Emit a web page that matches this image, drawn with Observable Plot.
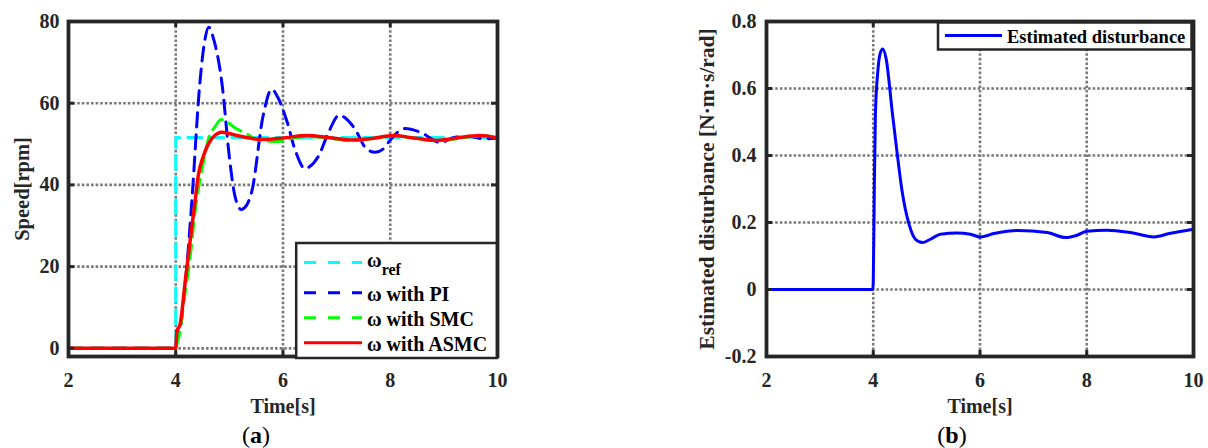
<!DOCTYPE html>
<html><head><meta charset="utf-8">
<script src="https://cdn.jsdelivr.net/npm/d3@7"></script>
<script src="https://cdn.jsdelivr.net/npm/@observablehq/plot@0.6"></script>
<style>
body{margin:0;background:#fff;}
#wrap{position:relative;width:1208px;height:448px;overflow:hidden;background:#fff;}
#row{display:flex;}
#overlay{position:absolute;left:0;top:0;}
</style></head><body>
<div id="wrap"><div id="row"></div><svg id="overlay" width="1208" height="448"></svg></div>
<script>
// ---------- data ----------
const xTicks = [2, 4, 6, 8, 10];
const speedTicks = [0, 20, 40, 60, 80];
const speedTickLabels = ["0", "20", "40", "60", "80"];
const distTicks = [-0.2, 0, 0.2, 0.4, 0.6, 0.8];
const distTickLabels = ["-0.2", "0", "0.2", "0.4", "0.6", "0.8"];

const speedRef = [[2,0],[4,0],[4,51.6],[10,51.6]];
const speedPI = [[2,0],[4,0],[4.03,3],[4.09,5.5],[4.2,19],[4.3,36],[4.45,65],[4.55,76],[4.615,78.6],[4.7,76],
  [4.86,65],[5.01,45.6],[5.1,37.5],[5.22,34],[5.32,35],[5.42,38.5],[5.63,57],[5.79,63.4],[5.9,61.5],[6.07,55.7],
  [6.23,48.4],[6.41,44],[6.5,44.5],[6.66,47],[6.85,52.9],[7.05,57.1],[7.15,56.5],[7.34,53.7],[7.56,48.8],[7.72,48],
  [7.9,49.2],[8.0,51],[8.28,53.8],[8.56,52.9],[8.93,50.4],[9.24,51.7],[9.5,51.8],[9.74,51.3],[10,51.4]];
const speedSMC = [[2,0],[4,0],[4.03,1.5],[4.08,4],[4.14,10.3],[4.27,22.5],[4.36,33.4],[4.5,44.5],[4.64,52.5],[4.72,54],
  [4.85,56],[4.95,55.5],[5.1,54],[5.27,52.9],[5.57,50.9],[5.92,50.6],[6.2,51.5],[6.5,51.8],[6.85,51.5],[7.25,50.8],
  [7.6,51.2],[8.06,52],[8.43,51.5],[8.87,50.8],[9.24,51.3],[9.67,52],[10,51.5]];
const speedASMC = [[2,0],[4,0],[4.02,4.2],[4.08,5.8],[4.18,16.8],[4.27,26.5],[4.36,36],[4.42,42.3],[4.52,47.2],[4.67,51.3],
  [4.78,52.6],[4.86,52.9],[5.0,52.6],[5.14,52.1],[5.45,51.3],[5.57,51.1],[5.76,51.2],[6.01,51.5],[6.44,52.1],[6.85,51.6],
  [7.25,51.0],[7.62,51.3],[8.06,52.1],[8.43,51.5],[8.87,50.9],[9.24,51.5],[9.67,52.1],[10,51.5]];
const disturbance = [[2,0],[3.99,0],[4.0,0.02],[4.02,0.3],[4.04,0.52],[4.085,0.65],[4.13,0.705],[4.18,0.718],[4.24,0.69],
  [4.36,0.524],[4.45,0.404],[4.54,0.294],[4.67,0.195],[4.79,0.15],[4.92,0.14],[5.07,0.15],[5.26,0.165],[5.57,0.169],
  [5.82,0.165],[6.01,0.157],[6.26,0.167],[6.7,0.176],[7.26,0.17],[7.6,0.155],[7.82,0.162],[8.0,0.174],[8.38,0.177],
  [8.82,0.17],[9.26,0.157],[9.57,0.168],[10,0.18]];

const speedNames = ["ref", "PI", "SMC", "ASMC"];
const legendLabelsA = ["\u03c9", "\u03c9 with PI", "\u03c9 with SMC", "\u03c9 with ASMC"];
const legendLabelB = "Estimated disturbance";

// ---------- styles ----------
const FONT = '"Liberation Serif","Times New Roman",serif';
const INK = "#262626";
const GRID = "#7a7a7a";
const speedStyle = {
  ref:  {color: "#00ffff", width: 3,   dash: "14,8"},
  PI:   {color: "#0000ff", width: 3,   dash: "14,8"},
  SMC:  {color: "#00ff00", width: 3,   dash: "14,8"},
  ASMC: {color: "#ff0000", width: 3.5, dash: null}
};
const speedData = {ref: speedRef, PI: speedPI, SMC: speedSMC, ASMC: speedASMC};
const xDomain = [2, 10];

function panel({domainY, yTicks, yTickLabels, yLabel, series, marginLeft, marginRight, yLabelDx, yPad, yLabelSize}) {
  const width = 604, height = 448, mt = 21, mb = 92;
  const pw = width - marginLeft - marginRight, ph = height - mt - mb;
  const xIn = xTicks.filter(d => d > xDomain[0] && d < xDomain[1]);
  const yIn = yTicks.filter(d => d > domainY[0] && d < domainY[1]);
  const gridOpts = {stroke: GRID, strokeOpacity: 1, strokeWidth: 2.6, strokeDasharray: "2.6,2"};
  return Plot.plot({
    width, height, marginLeft, marginRight, marginTop: mt, marginBottom: mb,
    style: {fontFamily: FONT, background: "transparent", overflow: "visible"},
    x: {domain: xDomain}, y: {domain: domainY},
    marks: [
      Plot.gridX(xIn, gridOpts),
      Plot.gridY(yIn, gridOpts),
      ...series.map(s => Plot.line(s.data, {x: d => d[0], y: d => d[1], stroke: s.color, strokeWidth: s.width,
        strokeDasharray: s.dash, curve: "monotone-x", strokeLinejoin: "round"})),
      Plot.tickX(xTicks, {x: d => d, stroke: INK, strokeWidth: 3, insetTop: ph - 6}),
      Plot.tickX(xTicks, {x: d => d, stroke: INK, strokeWidth: 3, insetBottom: ph - 6}),
      Plot.tickY(yTicks, {y: d => d, stroke: INK, strokeWidth: 3, insetRight: pw - 6}),
      Plot.tickY(yTicks, {y: d => d, stroke: INK, strokeWidth: 3, insetLeft: pw - 6}),
      Plot.frame({stroke: INK, strokeWidth: 3.8}),
      Plot.axisX({ticks: xTicks, anchor: "bottom", tickSize: 0, tickPadding: 16, fontSize: 20, fontWeight: "bold",
        color: INK, label: null, tickFormat: d => String(d)}),
      Plot.axisY({ticks: yTicks, anchor: "left", tickSize: 0, tickPadding: yPad, fontSize: 20, fontWeight: "bold",
        color: INK, label: null, tickFormat: d => yTickLabels[yTicks.indexOf(d)]}),
      Plot.text(["Time[s]"], {text: d => d, frameAnchor: "bottom", dy: 50.5, fontSize: 20, fontWeight: "bold",
        fill: INK, lineAnchor: "middle"}),
      Plot.text([yLabel], {text: d => d, frameAnchor: "left", dx: yLabelDx, rotate: -90, textAnchor: "middle",
        lineAnchor: "middle", fontSize: yLabelSize, fontWeight: "bold", fill: INK})
    ]
  });
}

const row = document.getElementById("row");
row.appendChild(panel({
  domainY: [-2, 80], yTicks: speedTicks, yTickLabels: speedTickLabels, yLabel: "Speed[rpm]",
  series: speedNames.map(n => ({data: speedData[n], ...speedStyle[n]})),
  marginLeft: 68, marginRight: 107, yLabelDx: -46, yPad: 9, yLabelSize: 20.5
}));
row.appendChild(panel({
  domainY: [-0.2, 0.8], yTicks: distTicks, yTickLabels: distTickLabels,
  yLabel: "Estimated disturbance [N\u00b7m\u00b7s/rad]",
  series: [{data: disturbance, color: "#0000ff", width: 3, dash: null}],
  marginLeft: 162, marginRight: 15, yLabelDx: -59, yPad: 10, yLabelSize: 21.5
}));

// ---------- legends & captions (overlay) ----------
const ov = d3.select("#overlay").style("font-family", FONT);
const gA = ov.append("g");
gA.append("rect").attr("x", 296.2).attr("y", 243).attr("width", 200.6).attr("height", 115)
  .attr("fill", "white").attr("stroke", INK).attr("stroke-width", 2.5);
const rowY = [262.5, 292.7, 317.7, 342.7];
speedNames.forEach((n, i) => {
  const st = speedStyle[n];
  gA.append("line").attr("x1", 304).attr("x2", 362).attr("y1", rowY[i]).attr("y2", rowY[i])
    .attr("stroke", st.color).attr("stroke-width", 3).attr("stroke-dasharray", st.dash ? "12,12" : null);
  const t = gA.append("text").attr("x", 367).attr("y", i === 0 ? 266.7 : rowY[i] + 7.8)
    .attr("font-size", 20).attr("font-weight", "bold").attr("fill", "#000").text(legendLabelsA[i]);
  if (i === 0) t.append("tspan").attr("font-size", 16).attr("dy", 8).text("ref");
});
const gB = ov.append("g");
gB.append("rect").attr("x", 938).attr("y", 22.5).attr("width", 253.5).attr("height", 27)
  .attr("fill", "white").attr("stroke", INK).attr("stroke-width", 2.5);
gB.append("line").attr("x1", 945).attr("x2", 1002).attr("y1", 35.5).attr("y2", 35.5)
  .attr("stroke", "#0000ff").attr("stroke-width", 3);
gB.append("text").attr("x", 1007).attr("y", 42.7).attr("font-size", 18.5).attr("font-weight", "bold")
  .attr("fill", "#000").text(legendLabelB);

[["a", 256], ["b", 952]].forEach(([c, x]) => {
  const t = ov.append("text").attr("x", x).attr("y", 443).attr("text-anchor", "middle")
    .attr("font-size", 24).attr("fill", "#000");
  t.append("tspan").text("(");
  t.append("tspan").attr("font-weight", "bold").text(c);
  t.append("tspan").text(")");
});
</script>
</body></html>
